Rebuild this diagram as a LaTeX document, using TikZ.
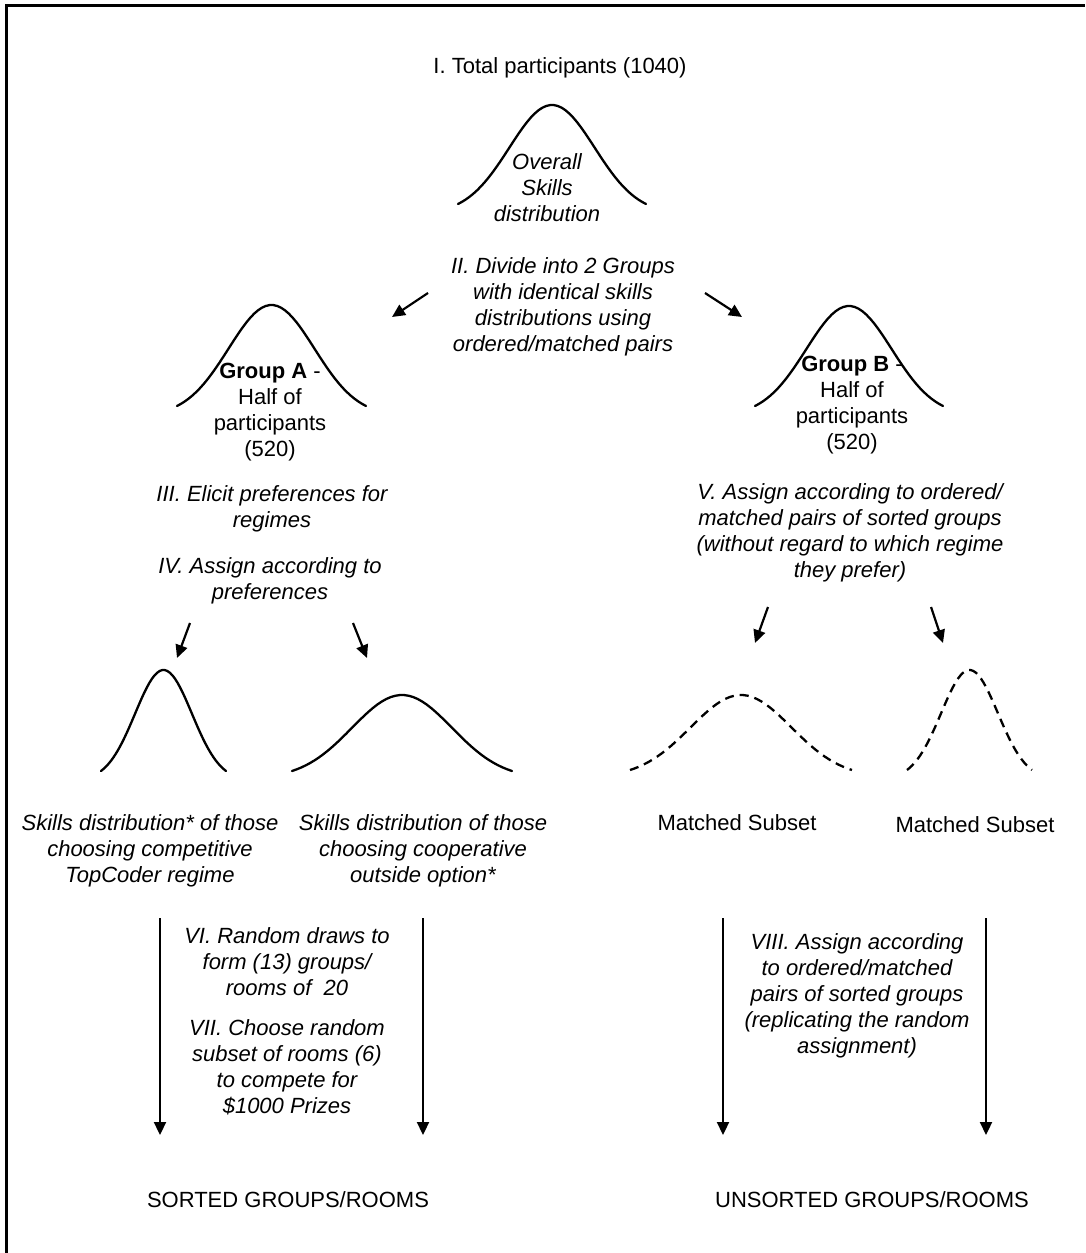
\documentclass[tikz,border=0pt]{standalone}
\usepackage{fontspec}
\setmainfont{Liberation Sans}
\usetikzlibrary{arrows.meta}
\tikzset{
  bell/.style={line width=2.3pt, line cap=round},
  arr/.style={line width=2.2pt, -{Triangle[length=13pt,width=12pt]}},
  note/.style={font=\fontsize{22}{26}\selectfont\itshape}
}
\newcommand{\bellcurve}[5][]{\draw[bell,#1] plot[domain=-2.2:2.2,samples=50] ({#2+#4*\x/2.2},{#3-#5*(exp(-\x*\x/2)-0.0889)/0.9111});}
\begin{document}
\begin{tikzpicture}[x=1pt, y=-1pt, every node/.style={font=\fontsize{22}{26}\selectfont, align=center, inner sep=0pt}]
  \useasboundingbox (0,0) rectangle (1085,1253);
  \draw[line width=3pt] (6,1253) -- (6,5) -- (1085,5);
  \node (title) at (560,68) {I. Total participants (1040)};
  \bellcurve{552}{204}{94}{99}
  \node[note] (overall) at (547,188) {Overall\\Skills\\distribution};
  \node[note] (divide) at (563,306.5) {II. Divide into 2 Groups\\with identical skills\\distributions using\\ordered/matched pairs};
  \coordinate (dL) at (428,293); \coordinate (dLe) at (392,317);
  \coordinate (dR) at (705,293); \coordinate (dRe) at (742,317);
  \draw[arr] (dL) -- (dLe); \draw[arr] (dR) -- (dRe);
  \bellcurve{271.5}{406}{94.5}{101}
  \bellcurve{849}{406}{94}{100}
  \node (grpA) at (270,412) {\textbf{Group A} -\\Half of\\participants\\(520)};
  \node (grpB) at (852,405) {\textbf{Group B} -\\Half of\\participants\\(520)};
  \node[note] (elicit) at (272,509) {III. Elicit preferences for\\regimes};
  \node[note] (prefA) at (270,581) {IV. Assign according to\\preferences};
  \node[note] (assignB) at (850,533) {V. Assign according to ordered/\\matched pairs of sorted groups\\(without regard to which regime\\they prefer)};
  \coordinate (aL) at (190,623); \coordinate (aLe) at (177,658);
  \coordinate (aR) at (353,623); \coordinate (aRe) at (367,658);
  \coordinate (bL) at (768,607); \coordinate (bLe) at (755,643);
  \coordinate (bR) at (931,607); \coordinate (bRe) at (943,643);
  \draw[arr] (aL) -- (aLe); \draw[arr] (aR) -- (aRe);
  \draw[arr] (bL) -- (bLe); \draw[arr] (bR) -- (bRe);
  \bellcurve{163.5}{771}{62.5}{101}
  \bellcurve{402}{771}{110}{76}
  \bellcurve[dash pattern=on 9pt off 6pt, line cap=butt]{741}{770}{111}{75}
  \bellcurve[dash pattern=on 9pt off 6pt, line cap=butt]{969.5}{770}{62.5}{100}
  \node[note] (compet) at (150,851) {Skills distribution* of those\\choosing competitive\\TopCoder regime};
  \node[note] (cooper) at (423,851) {Skills distribution of those\\choosing cooperative\\outside option*};
  \node (matchL) at (737,823) {Matched Subset};
  \node (matchR) at (975,825) {Matched Subset};
  \foreach \n/\xx in {v1/160, v2/423, v3/723, v4/986} {
    \coordinate (\n) at (\xx,918); \coordinate (\n e) at (\xx,1135);
    \draw[arr] (\n) -- (\n e);
  }
  \node[note] (draws) at (287,962) {VI. Random draws to\\form (13) groups/\\rooms of~ 20};
  \node[note] (prizes) at (287,1067.5) {VII. Choose random\\subset of rooms (6)\\to compete for\\\$1000 Prizes};
  \node[note] (replic) at (857,996) {VIII. Assign according\\to ordered/matched\\pairs of sorted groups\\(replicating the random\\assignment)};
  \node (sorted) at (288,1200) {SORTED GROUPS/ROOMS};
  \node (unsorted) at (872,1200) {UNSORTED GROUPS/ROOMS};
\end{tikzpicture}
\end{document}
